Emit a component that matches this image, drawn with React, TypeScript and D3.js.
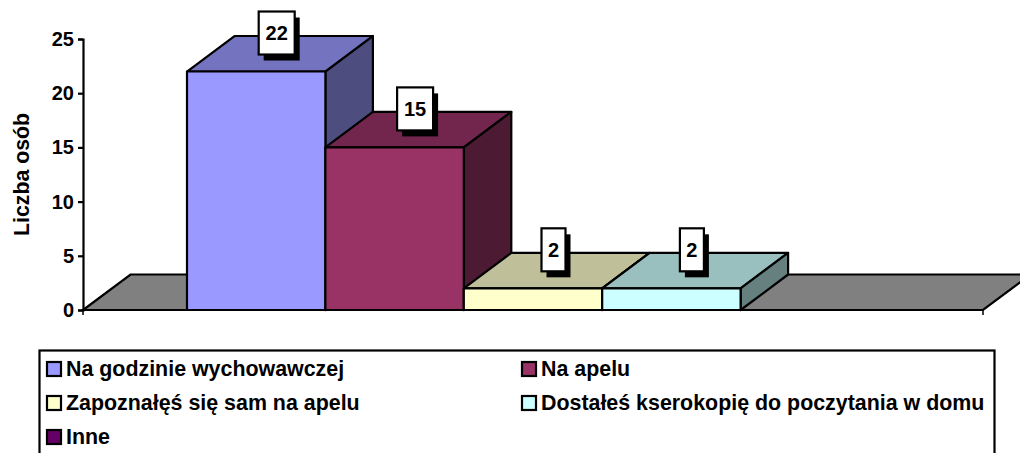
import { useRef, useEffect } from 'react';
import * as d3 from 'd3';

const seriesNames = [
  'Na godzinie wychowawczej',
  'Na apelu',
  'Zapoznałęś się sam na apelu',
  'Dostałeś kserokopię do poczytania w domu',
  'Inne',
];
const seriesValues = [22, 15, 2, 2, 0];
const frontColors = ['#9999ff', '#993366', '#ffffcc', '#ccffff', '#660066'];
const topColors = ['#7373bf', '#73264d', '#bfbf99', '#99bfbf', '#4d004d'];
const sideColors = ['#4d4d80', '#4d1a33', '#808066', '#668080', '#330033'];
const yTicks = [0, 5, 10, 15, 20, 25];

const font = '"Liberation Sans", Arial, sans-serif';
const depthX = 47.5;
const depthY = 35.5;
const lineW = 2.2;

const poly = (pts: number[][]) => pts.map((p) => p.join(',')).join(' ');

const App = () => {
  const svgRef = useRef(null);

  useEffect(() => {
    const svg = d3.select(svgRef.current);
    svg.selectAll('*').remove();

    const y = d3.scaleLinear().domain([0, 25]).range([310, 39]);
    const xOuter = [83, 983];
    // one category, five series: the band scale leaves the gap on both sides
    const x = d3
      .scaleBand<number>()
      .domain(d3.range(seriesValues.length))
      .range([187, 879]);

    // floor
    svg
      .append('polygon')
      .attr(
        'points',
        poly([
          [xOuter[0], y(0)],
          [xOuter[1], y(0)],
          [xOuter[1] + depthX, y(0) - depthY],
          [xOuter[0] + depthX, y(0) - depthY],
        ]),
      )
      .attr('fill', '#808080')
      .attr('stroke', '#000')
      .attr('stroke-width', lineW);

    // bars, back faces first so neighbours overlap as in the original
    const bars = svg
      .selectAll('g.bar')
      .data(seriesValues.map((value, i) => ({ value, i })).filter((d) => d.value > 0))
      .join('g')
      .attr('class', 'bar');

    bars
      .append('polygon')
      .attr('points', (d) => {
        const x0 = x(d.i);
        const x1 = x0 + x.bandwidth();
        return poly([
          [x0, y(d.value)],
          [x1, y(d.value)],
          [x1 + depthX, y(d.value) - depthY],
          [x0 + depthX, y(d.value) - depthY],
        ]);
      })
      .attr('fill', (d) => topColors[d.i]);

    bars
      .append('polygon')
      .attr('points', (d) => {
        const x1 = x(d.i) + x.bandwidth();
        return poly([
          [x1, y(0)],
          [x1, y(d.value)],
          [x1 + depthX, y(d.value) - depthY],
          [x1 + depthX, y(0) - depthY],
        ]);
      })
      .attr('fill', (d) => sideColors[d.i]);

    bars
      .append('rect')
      .attr('x', (d) => x(d.i))
      .attr('y', (d) => y(d.value))
      .attr('width', x.bandwidth())
      .attr('height', (d) => y(0) - y(d.value))
      .attr('fill', (d) => frontColors[d.i]);

    bars
      .selectAll('polygon, rect')
      .attr('stroke', '#000')
      .attr('stroke-width', lineW)
      .attr('stroke-linejoin', 'round');

    // y axis
    const axis = svg
      .append('g')
      .attr('transform', `translate(${xOuter[0]},0)`)
      .call(d3.axisLeft(y).tickValues(yTicks).tickSize(5).tickPadding(4));
    axis.selectAll('path, line').attr('stroke', '#000').attr('stroke-width', lineW);
    axis
      .selectAll('text')
      .attr('fill', '#000')
      .style('font', `bold 20px ${font}`);

    // x axis line and its end ticks
    svg
      .append('line')
      .attr('x1', xOuter[0])
      .attr('x2', xOuter[1])
      .attr('y1', y(0))
      .attr('y2', y(0))
      .attr('stroke', '#000')
      .attr('stroke-width', lineW);
    svg
      .selectAll('line.xtick')
      .data(xOuter)
      .join('line')
      .attr('class', 'xtick')
      .attr('x1', (d) => d)
      .attr('x2', (d) => d)
      .attr('y1', y(0))
      .attr('y2', y(0) + 5)
      .attr('stroke', '#000')
      .attr('stroke-width', 1.5);

    svg
      .append('text')
      .attr('transform', 'translate(29,174.5) rotate(-90)')
      .attr('text-anchor', 'middle')
      .style('font', `bold 21.3px ${font}`)
      .text('Liczba osób');

    // data labels
    const labels = svg
      .selectAll('g.label')
      .data(seriesValues.map((value, i) => ({ value, i })).filter((d) => d.value > 0))
      .join('g')
      .attr('class', 'label')
      .attr(
        'transform',
        (d) =>
          `translate(${x(d.i) + x.bandwidth() / 2 + 20.5},${y(d.value) - depthY - 3})`,
      );
    const boxW = (d) => (String(d.value).length > 1 ? 36 : 24);
    labels
      .append('rect')
      .attr('x', (d) => -boxW(d) / 2 + 5)
      .attr('y', -21.5 + 6)
      .attr('width', boxW)
      .attr('height', 43)
      .attr('fill', '#000');
    labels
      .append('rect')
      .attr('x', (d) => -boxW(d) / 2)
      .attr('y', -21.5)
      .attr('width', boxW)
      .attr('height', 43)
      .attr('fill', '#fff')
      .attr('stroke', '#000')
      .attr('stroke-width', lineW);
    labels
      .append('text')
      .attr('text-anchor', 'middle')
      .attr('y', 7)
      .style('font', `bold 20px ${font}`)
      .text((d) => d.value);

    // legend, its bottom edge runs off the page
    svg
      .append('rect')
      .attr('x', 39.5)
      .attr('y', 350.5)
      .attr('width', 955)
      .attr('height', 130)
      .attr('fill', '#fff')
      .attr('stroke', '#000')
      .attr('stroke-width', lineW);

    const legendX = d3.scaleOrdinal<number, number>().domain([0, 1]).range([47, 522]);
    const legendY = d3.scaleOrdinal<number, number>().domain([0, 1, 2]).range([369, 403, 437]);
    const items = svg
      .selectAll('g.legend')
      .data(seriesNames)
      .join('g')
      .attr('class', 'legend')
      .attr(
        'transform',
        (_, i) => `translate(${legendX(i % 2)},${legendY(Math.floor(i / 2))})`,
      );
    items
      .append('rect')
      .attr('x', 0)
      .attr('y', -7)
      .attr('width', 14)
      .attr('height', 14)
      .attr('fill', (_, i) => frontColors[i])
      .attr('stroke', '#000')
      .attr('stroke-width', lineW);
    items
      .append('text')
      .attr('x', 19)
      .attr('y', 7)
      .style('font', `bold 21.4px ${font}`)
      .text((d) => d);
  }, []);

  return (
    <svg
      ref={svgRef}
      width={1020}
      height={453}
      viewBox="0 0 1020 453"
      style={{ position: 'absolute', left: 0, top: 0, background: '#fff' }}
    />
  );
};

export default App;
